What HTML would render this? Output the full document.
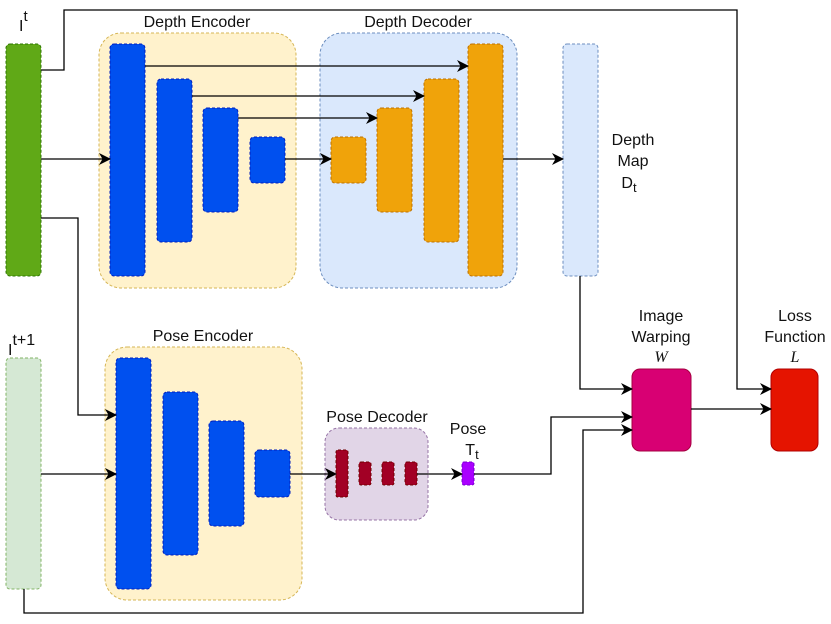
<!DOCTYPE html>
<html><head><meta charset="utf-8"><style>
html,body{margin:0;padding:0;background:#fff;width:831px;height:624px;overflow:hidden}
text{font-family:"Liberation Sans",sans-serif;font-size:16px;fill:#111}
</style></head><body>
<svg width="831" height="624" viewBox="0 0 831 624" xmlns="http://www.w3.org/2000/svg">
<defs><marker id="a" markerWidth="12" markerHeight="12" refX="11" refY="6" orient="auto" markerUnits="userSpaceOnUse"><path d="M0,0 L12,6 L0,12 L3.5,6 z" fill="#000"/></marker></defs>
<rect x="99" y="33" width="197" height="255" rx="22" fill="#fff2cc" stroke="#d6b656" stroke-dasharray="3,2"/>
<rect x="320" y="33" width="197" height="255" rx="22" fill="#dae8fc" stroke="#6c8ebf" stroke-dasharray="3,2"/>
<rect x="105" y="347" width="197" height="253" rx="22" fill="#fff2cc" stroke="#d6b656" stroke-dasharray="3,2"/>
<rect x="325" y="428" width="103" height="92" rx="14" fill="#e1d5e7" stroke="#9673a6" stroke-dasharray="3,2"/>
<g stroke-dasharray="3,2">
<rect x="6" y="44" width="35" height="232" rx="4" fill="#60a917" stroke="#2d7600"/>
<rect x="6" y="358" width="35" height="231" rx="4" fill="#d5e8d4" stroke="#82b366"/>
<rect x="563" y="44" width="35" height="232" rx="4" fill="#dae8fc" stroke="#6c8ebf"/>
<g fill="#0050ef" stroke="#001dbc">
<rect x="110" y="44" width="35" height="232" rx="4"/>
<rect x="157" y="79" width="35" height="163" rx="4"/>
<rect x="203" y="108" width="35" height="104" rx="4"/>
<rect x="250" y="137" width="35" height="46" rx="4"/>
<rect x="116" y="358" width="35" height="231" rx="4"/>
<rect x="163" y="392" width="35" height="163" rx="4"/>
<rect x="209" y="421" width="35" height="105" rx="4"/>
<rect x="255" y="450" width="35" height="47" rx="4"/>
</g>
<g fill="#f0a30a" stroke="#bd7000">
<rect x="331" y="137" width="35" height="46" rx="4"/>
<rect x="377" y="108" width="35" height="104" rx="4"/>
<rect x="424" y="79" width="35" height="163" rx="4"/>
<rect x="468" y="44" width="35" height="232" rx="4"/>
</g>
<g fill="#a20025" stroke="#6f0000">
<rect x="336" y="450" width="12" height="47" rx="2"/>
<rect x="359" y="462" width="12" height="23" rx="2"/>
<rect x="382" y="462" width="12" height="23" rx="2"/>
<rect x="405" y="462" width="12" height="23" rx="2"/>
</g>
<rect x="462" y="462" width="12" height="23" rx="2" fill="#aa00ff" stroke="#7700cc"/>
</g>
<rect x="632" y="369" width="59" height="82" rx="8" fill="#d80073" stroke="#a50040"/>
<rect x="771" y="369" width="47" height="82" rx="8" fill="#e51400" stroke="#b20000"/>
<g fill="none" stroke="#000" stroke-width="1.3">
<path d="M41,70 H64 V10 H737 V389 H771" marker-end="url(#a)"/>
<path d="M145,66 H468" marker-end="url(#a)"/>
<path d="M192,96 H424" marker-end="url(#a)"/>
<path d="M238,118 H377" marker-end="url(#a)"/>
<path d="M285,159 H331" marker-end="url(#a)"/>
<path d="M41,159 H110" marker-end="url(#a)"/>
<path d="M503,159 H563" marker-end="url(#a)"/>
<path d="M41,218 H78 V415 H116" marker-end="url(#a)"/>
<path d="M41,474 H116" marker-end="url(#a)"/>
<path d="M290,474 H336" marker-end="url(#a)"/>
<path d="M417,474 H462" marker-end="url(#a)"/>
<path d="M474,474 H551 V417 H632" marker-end="url(#a)"/>
<path d="M24,589 V613 H583 V430 H632" marker-end="url(#a)"/>
<path d="M580,276 V389 H632" marker-end="url(#a)"/>
<path d="M691,409 H771" marker-end="url(#a)"/>
</g>
<text x="19" y="31" font-size="19">I<tspan dy="-10" font-size="15">t</tspan></text>
<text x="197" y="27" text-anchor="middle">Depth Encoder</text>
<text x="418" y="27" text-anchor="middle">Depth Decoder</text>
<text x="633" y="145" text-anchor="middle">Depth</text>
<text x="633" y="166" text-anchor="middle">Map</text>
<text x="629" y="188" text-anchor="middle">D<tspan dy="4" font-size="13">t</tspan></text>
<text x="8" y="355" font-size="19">I<tspan dy="-10" font-size="16">t+1</tspan></text>
<text x="203" y="341" text-anchor="middle">Pose Encoder</text>
<text x="377" y="422" text-anchor="middle">Pose Decoder</text>
<text x="468" y="434" text-anchor="middle">Pose</text>
<text x="472" y="455" text-anchor="middle">T<tspan dy="4" font-size="13">t</tspan></text>
<text x="661" y="321" text-anchor="middle">Image</text>
<text x="661" y="342" text-anchor="middle">Warping</text>
<text x="661" y="362" text-anchor="middle" style="font-family:'Liberation Serif',serif;font-style:italic">W</text>
<text x="795" y="321" text-anchor="middle">Loss</text>
<text x="795" y="342" text-anchor="middle">Function</text>
<text x="795" y="362" text-anchor="middle" style="font-family:'Liberation Serif',serif;font-style:italic">L</text>
</svg>
</body></html>
